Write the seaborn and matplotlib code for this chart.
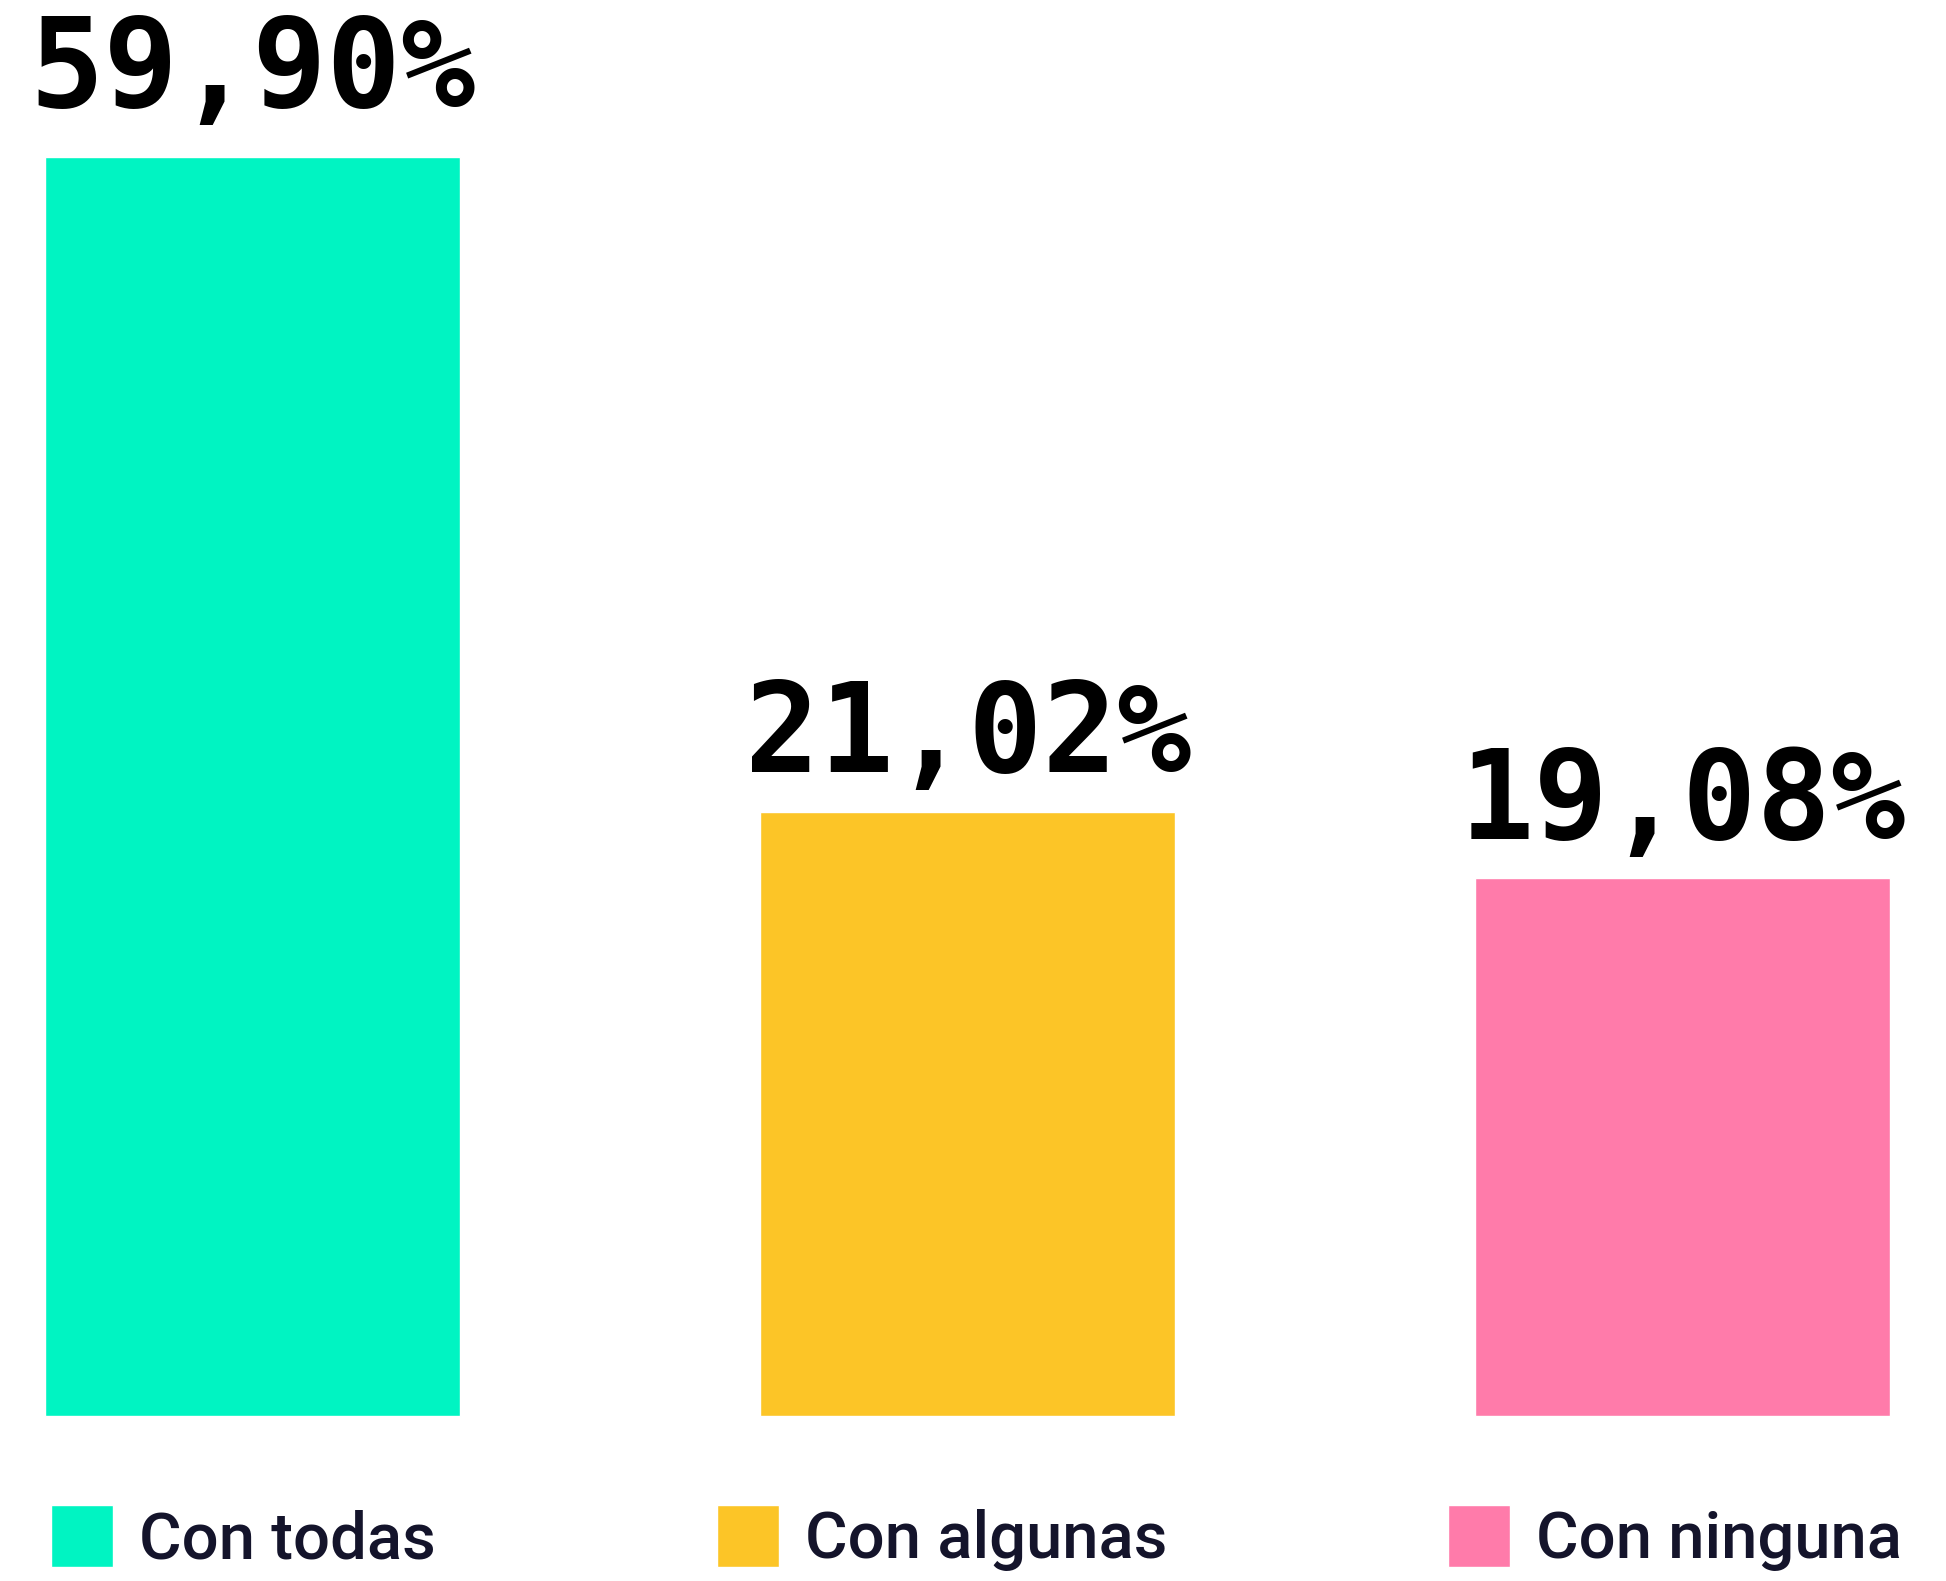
import matplotlib
matplotlib.use("Agg")
import matplotlib.pyplot as plt
import seaborn as sns

# Data
categories = ["Con todas", "Con algunas", "Con ninguna"]
labels = ["59,90%", "21,02%", "19,08%"]
# bar heights as drawn (the chart is not to scale for the first bar)
bar_heights = [59.90, 28.71, 25.60]
colors = ["#00F4C2", "#FCC527", "#FF7BAA"]

# label gap above each bar (points)
pads = [17, 10, 9]

sns.set_style("white")

fig = plt.figure(figsize=(19.46, 15.81), dpi=100)
ax = fig.add_axes([0, 0, 1, 1])

sns.barplot(x=categories, y=bar_heights, hue=categories, palette=colors,
            saturation=1, width=0.58, ax=ax, legend=True)

# Value labels above bars
for cont, lab, pad in zip(ax.containers, labels, pads):
    ax.bar_label(cont, labels=[lab], padding=pad, fontsize=89,
                 fontweight="bold", family="DejaVu Sans Mono", color="black")

ax.set_xlim(-0.353, 2.368)
ax.set_ylim(-7.865, 67.35)
ax.set_axis_off()

sns.move_legend(ax, "center left", bbox_to_anchor=(51 / 1946, 43 / 1581),
                bbox_transform=fig.transFigure, ncol=3, frameon=False,
                title=None, prop={"family": "Roboto", "weight": "medium", "size": 47},
                labelcolor="#14142B", handlelength=0.95, handleheight=1.08,
                handletextpad=0.4, columnspacing=4.3, borderpad=0, borderaxespad=0)

fig.savefig("out.png", dpi=100, facecolor="white")
